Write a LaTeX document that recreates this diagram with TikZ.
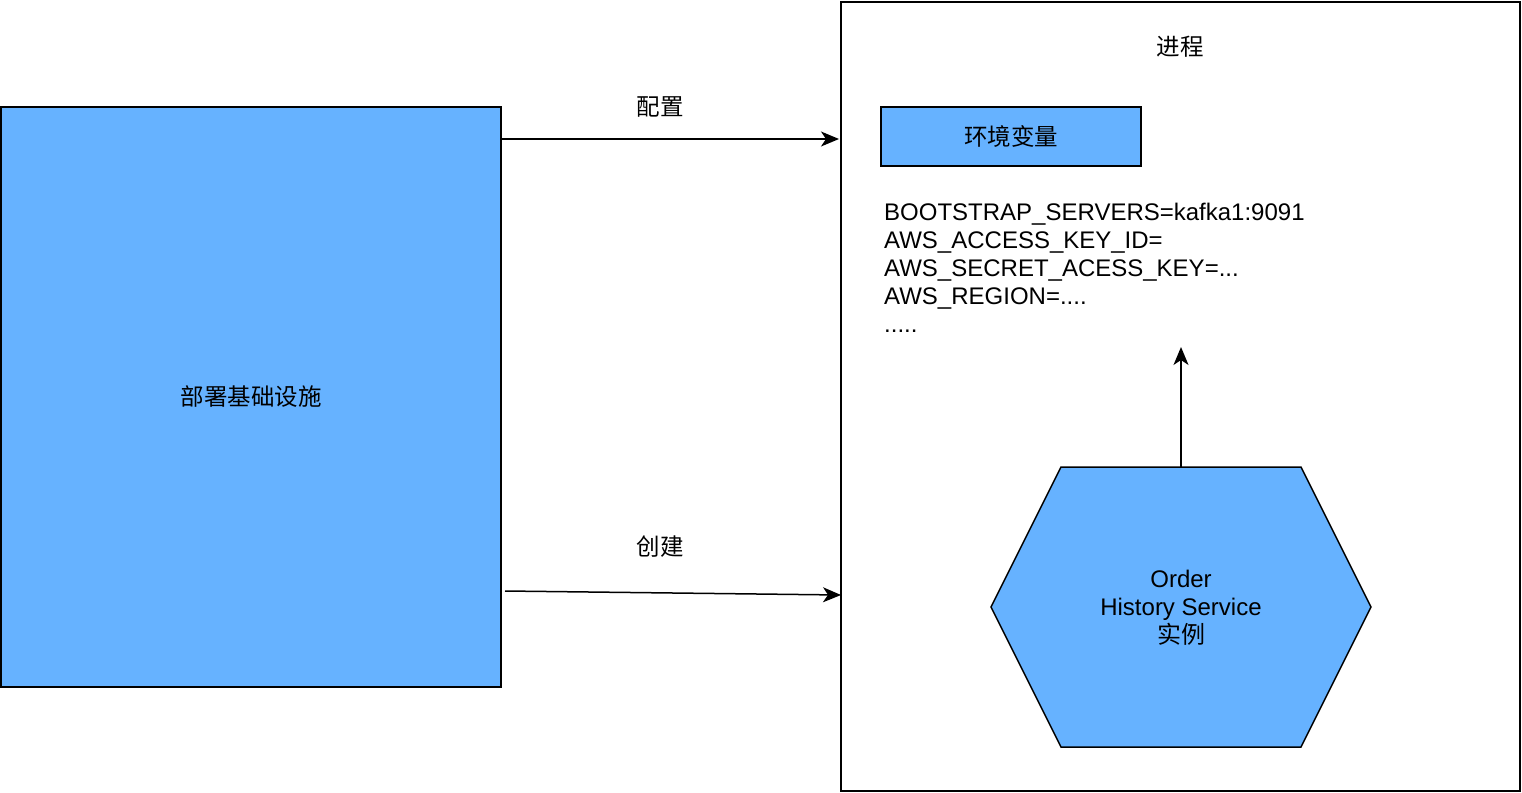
\documentclass[tikz,border=0pt]{standalone}
\usepackage{fontspec}
\setmainfont{Liberation Sans}
\newfontfamily\cjk{Noto Sans CJK SC}
\usetikzlibrary{arrows.meta}
\definecolor{boxblue}{HTML}{66B2FF}
\tikzset{
  bluebox/.style={draw=black, line width=1.5pt, fill=boxblue},
  arr/.style={-{Stealth[length=18pt,width=15pt,inset=5pt]}, line width=1.5pt},
  lbl/.style={font=\fontsize{23.5}{28}\selectfont\cjk, inner sep=0pt}
}
\begin{document}
\begin{tikzpicture}[x=1pt,y=-1pt]
\useasboundingbox (0,0) rectangle (1522,792);
% left box
\draw[bluebox] (1,107) rectangle (501,687);
\node[lbl] (infra) at (251,397) {部署基础设施};
\coordinate (infraTop) at (501,139);
\coordinate (infraBot) at (505,591);
% right process box
\draw[line width=1.5pt] (841,2) rectangle (1520,791);
\node[lbl] (proc) at (1180,47) {进程};
\coordinate (procTop) at (839,139);
\coordinate (procBot) at (841,595);
% env var box
\node[bluebox, minimum width=260pt, minimum height=59pt, inner sep=0pt, font=\fontsize{23.5}{28}\selectfont\cjk] (env) at (1011,136.5) {环境变量};
% env text
\node[anchor=north west, align=left, inner sep=0pt, font=\fontsize{24}{28}\selectfont] (vars) at (884,203)
 {BOOTSTRAP\_SERVERS=kafka1:9091\\AWS\_ACCESS\_KEY\_ID=\\AWS\_SECRET\_ACESS\_KEY=...\\AWS\_REGION=....\\.....};
\coordinate (varsBot) at (1181,347);
% hexagon
\draw[bluebox] (991,607) -- (1061,467) -- (1301,467) -- (1371,607) -- (1301,747) -- (1061,747) -- cycle;
\node[align=center, inner sep=0pt, font=\fontsize{24}{28}\selectfont] (svc) at (1181,608) {Order\\History Service\\{\cjk 实例}};
\coordinate (hexTop) at (1181,467);
% arrows
\draw[arr] (infraTop) -- (procTop);
\draw[arr] (infraBot) -- (procBot);
\draw[arr] (hexTop) -- (varsBot);
\node[lbl] (l1) at (660,107) {配置};
\node[lbl] (l2) at (660,547) {创建};
\end{tikzpicture}
\end{document}
